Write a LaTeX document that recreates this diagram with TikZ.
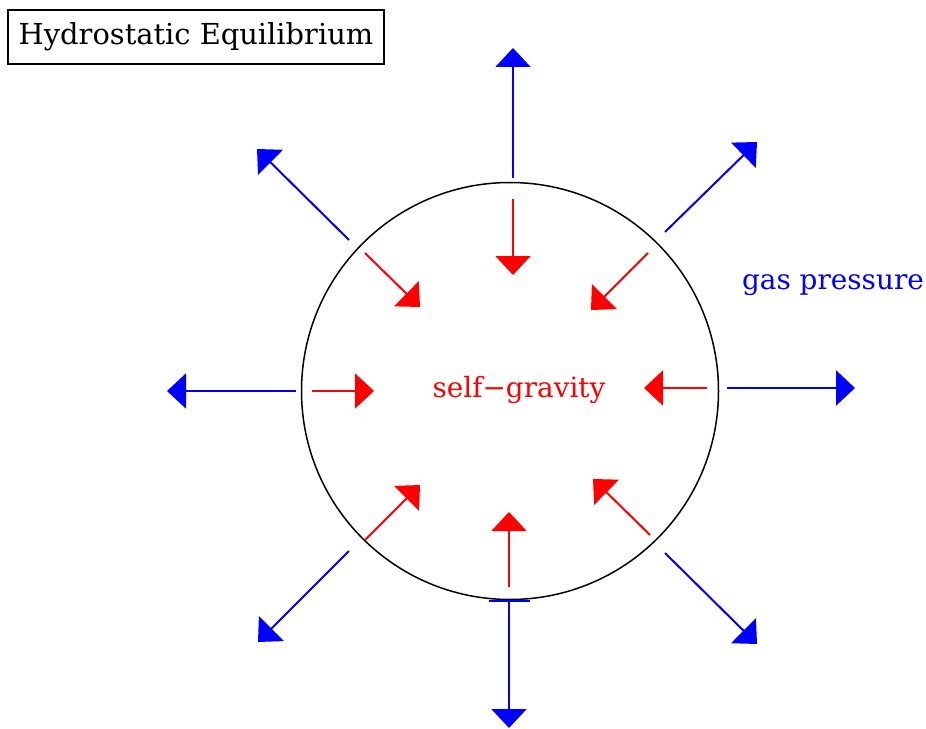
\documentclass[tikz,border=0pt]{standalone}
\usepackage{fontspec}
\setmainfont{DejaVu Serif}
\usetikzlibrary{arrows.meta}

\begin{document}
\begin{tikzpicture}[x=1bp, y=-1bp,
    push/.style={blue, line width=2bp, -{Triangle[length=19bp, width=35bp]}},
    pull/.style={red, line width=2bp, -{Triangle[length=19bp, width=35bp]}}]
    \useasboundingbox (0,0) rectangle (926,729);

    \node [draw, line width=1.5bp, minimum width=376bp, minimum height=54bp, inner sep=0pt] (title) at (196,37) {\fontsize{29}{32}\selectfont Hydrostatic Equilibrium};

    \node [circle, draw, line width=1.5bp, minimum size=417bp, inner sep=0pt] (star) at (510,391) {};

    \node [red] (gravity) at (519,390) {\fontsize{28}{32}\selectfont self−gravity};
    \node [blue] (pressure) at (833,285) {\fontsize{28}{32}\selectfont gas pressure};

    % gas pressure, outwards
    \coordinate (bN0) at (513,178);  \coordinate (bN1) at (513,48);
    \coordinate (bNE0) at (665,232); \coordinate (bNE1) at (757,142);
    \coordinate (bE0) at (727,388);  \coordinate (bE1) at (855,388);
    \coordinate (bSE0) at (665,553); \coordinate (bSE1) at (757,644);
    \coordinate (bS0) at (509,600);  \coordinate (bS1) at (509,728);
    \coordinate (bSW0) at (349,551); \coordinate (bSW1) at (258,642);
    \coordinate (bW0) at (296,391);  \coordinate (bW1) at (167,391);
    \coordinate (bNW0) at (349,240); \coordinate (bNW1) at (257,149);

    % self-gravity, inwards
    \coordinate (rN0) at (513,199);  \coordinate (rN1) at (513,275);
    \coordinate (rNE0) at (648,253); \coordinate (rNE1) at (591,310);
    \coordinate (rE0) at (707,388);  \coordinate (rE1) at (644,388);
    \coordinate (rSE0) at (650,535); \coordinate (rSE1) at (593,479);
    \coordinate (rS0) at (509,587);  \coordinate (rS1) at (509,512);
    \coordinate (rSW0) at (365,540); \coordinate (rSW1) at (420,485);
    \coordinate (rW0) at (312,391);  \coordinate (rW1) at (374,391);
    \coordinate (rNW0) at (365,253); \coordinate (rNW1) at (420,307);

    \begin{scope}[every path/.style={push}]
        \draw (bN0) -- (bN1);
        \draw (bNE0) -- (bNE1);
        \draw (bE0) -- (bE1);
        \draw (bSE0) -- (bSE1);
        \draw [{Bar[width=41bp, line width=1.5bp]}-{Triangle[length=19bp, width=35bp]}] (bS0) -- (bS1);
        \draw (bSW0) -- (bSW1);
        \draw (bW0) -- (bW1);
        \draw (bNW0) -- (bNW1);
    \end{scope}

    \begin{scope}[every path/.style={pull}]
        \draw (rN0) -- (rN1);
        \draw (rNE0) -- (rNE1);
        \draw (rE0) -- (rE1);
        \draw (rSE0) -- (rSE1);
        \draw (rS0) -- (rS1);
        \draw (rSW0) -- (rSW1);
        \draw (rW0) -- (rW1);
        \draw (rNW0) -- (rNW1);
    \end{scope}

\end{tikzpicture}
\end{document}
